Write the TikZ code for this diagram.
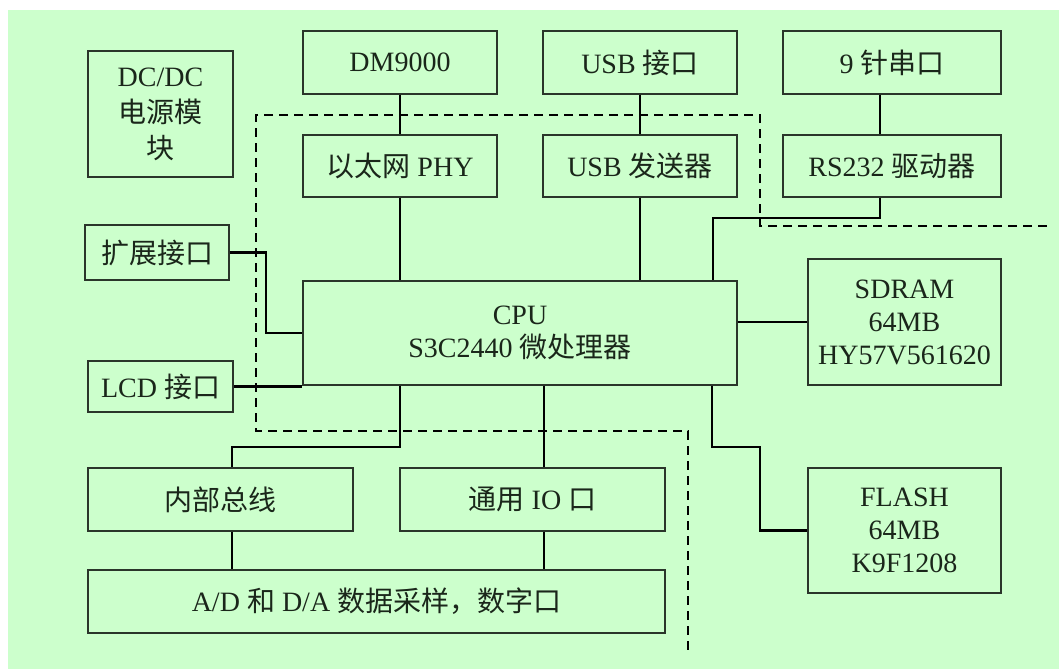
\documentclass[tikz,border=0pt]{standalone}
\usepackage{fontspec}
\setmainfont{Liberation Serif}
\newfontfamily\cjk{Noto Sans CJK SC}
\usetikzlibrary{calc}
\definecolor{bg}{HTML}{CCFFCC}
\definecolor{boxc}{HTML}{2A352A}
\definecolor{txt}{HTML}{1A261A}
\begin{document}
\begin{tikzpicture}[x=1pt,y=-1pt,
  box/.style={draw=boxc, line width=1.3pt, inner sep=0pt, align=center,
    font=\fontsize{28}{33}\selectfont, text=txt},
  conn/.style={line width=1.8pt, draw=black},
  heavy/.style={line width=2.6pt, draw=black},
  region/.style={line width=2.5pt, dash pattern=on 9pt off 6pt}]
\useasboundingbox (0,0) rectangle (1059,669);
\fill[white] (0,0) rectangle (1059,669);
\fill[bg] (8,10) rectangle (1059,669);

% boxes
\node[box, minimum width=145pt, minimum height=126pt] (dcdc) at (160.5,114) {DC/DC\\[3pt]{\cjk 电源模}\\[3pt]{\cjk 块}};
\node[box, minimum width=194pt, minimum height=63pt] (dm) at (400,62.5) {DM9000};
\node[box, minimum width=194pt, minimum height=62pt] (phy) at (400,166) {{\cjk 以太网} PHY};
\node[box, minimum width=194pt, minimum height=63pt] (usbif) at (640,62.5) {USB {\cjk 接口}};
\node[box, minimum width=194pt, minimum height=62pt] (usbtx) at (640,166) {USB {\cjk 发送器}};
\node[box, minimum width=218pt, minimum height=63pt] (com) at (892,62.5) {9 {\cjk 针串口}};
\node[box, minimum width=218pt, minimum height=62pt] (rs) at (892,166) {RS232 {\cjk 驱动器}};
\node[box, minimum width=144pt, minimum height=55pt] (ext) at (157,252.5) {{\cjk 扩展接口}};
\node[box, minimum width=145pt, minimum height=51pt] (lcd) at (160.5,386.5) {LCD {\cjk 接口}};
\node[box, minimum width=434pt, minimum height=104pt] (cpu) at (520,333) {CPU\\S3C2440 {\cjk 微处理器}};
\node[box, minimum width=193pt, minimum height=126pt] (sdram) at (904.5,322) {SDRAM\\64MB\\HY57V561620};
\node[box, minimum width=265pt, minimum height=63pt] (bus) at (220.5,499.5) {{\cjk 内部总线}};
\node[box, minimum width=265pt, minimum height=63pt] (gpio) at (532.5,499.5) {{\cjk 通用} IO {\cjk 口}};
\node[box, minimum width=577pt, minimum height=63pt] (adda) at (376.5,601.5) {A/D {\cjk 和} D/A {\cjk 数据采样，数字口}};
\node[box, minimum width=193pt, minimum height=125pt] (flash) at (904.5,530.5) {FLASH\\64MB\\K9F1208};

% helper coordinates
\coordinate (r1) at (880,218);
\coordinate (r2) at (713,218);
\coordinate (e1) at (266,252.5);
\coordinate (b1) at (400,447);
\coordinate (b2) at (232,447);
\coordinate (g1) at (544,447);
\coordinate (f1) at (712,447);
\coordinate (f2) at (760,447);

% connectors
\draw[conn] (dm.south) -- (phy.north);
\draw[conn] (phy.south) -- (phy.south |- cpu.north);
\draw[conn] (usbif.south) -- (usbtx.north);
\draw[conn] (usbtx.south) -- (usbtx.south |- cpu.north);
\draw[conn] (r1 |- com.south) -- (r1 |- rs.north);
\draw[conn] (r1 |- rs.south) -- (r1) -- (r2) -- (r2 |- cpu.north);
\draw[heavy] (ext.east) -| (e1 |- cpu.west) -- (cpu.west);
\draw[heavy] (lcd.east) -- (lcd.east -| cpu.west);
\draw[conn] (cpu.east |- sdram.west) -- (sdram.west);
\draw[heavy] (b1 |- cpu.south) -- (b1) -- (b2) -- (b2 |- bus.north);
\draw[conn] (b2 |- bus.south) -- (b2 |- adda.north);
\draw[conn] (g1 |- cpu.south) -- (g1 |- gpio.north);
\draw[conn] (g1 |- gpio.south) -- (g1 |- adda.north);
\draw[heavy] (f1 |- cpu.south) -- (f1) -- (f2) |- (flash.west);

% dashed region boundary
\draw[region] (1047,226) -- (760,226) -- (760,115) -- (256,115) -- (256,431) -- (688,431) -- (688,650);
\end{tikzpicture}
\end{document}
